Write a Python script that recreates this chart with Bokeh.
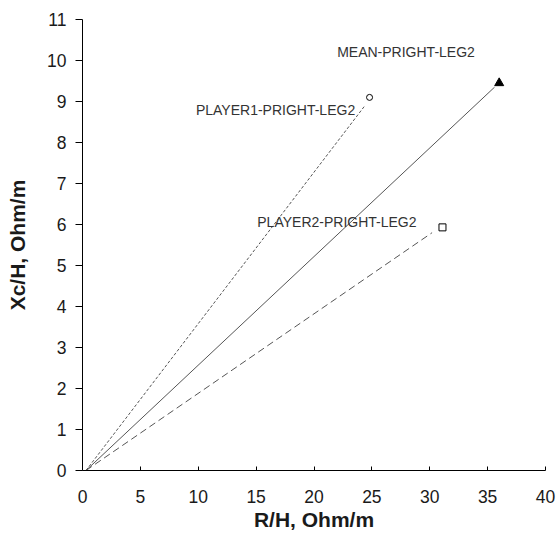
from bokeh.plotting import figure
from bokeh.models import Range1d, FixedTicker
from bokeh.core.properties import value
from bokeh.embed import file_html
from bokeh.resources import INLINE

# Data
series = ["MEAN-PRIGHT-LEG2", "PLAYER1-PRIGHT-LEG2", "PLAYER2-PRIGHT-LEG2"]
point_r = [36.0, 24.8, 31.1]
point_xc = [9.45, 9.1, 5.93]
line_end_r = [35.6, 24.4, 30.2]
line_end_xc = [9.35, 8.9, 5.8]
line_start_r = [0.3, 0.3, 0.3]
line_start_xc = [0.0, 0.0, 0.0]
label_r = [22.0, 9.8, 15.1]
label_xc = [10.2, 8.8, 6.05]
x_ticks = [0, 5, 10, 15, 20, 25, 30, 35, 40]
y_ticks = list(range(0, 12))

FONT = "Liberation Sans"

p = figure(width=558, height=536, output_backend="svg", toolbar_location=None,
           x_range=Range1d(0, 40), y_range=Range1d(0, 11),
           min_border_left=82, min_border_right=13, min_border_top=19, min_border_bottom=66)
p.outline_line_color = None
p.grid.visible = False
p.background_fill_color = "white"
p.border_fill_color = "white"

dashes = ["solid", "3 2", "7 4"]
for i in range(3):
    p.line([line_start_r[i], line_end_r[i]], [line_start_xc[i], line_end_xc[i]],
           line_color="#555555", line_width=1, line_dash=dashes[i])

p.scatter([point_r[0]], [point_xc[0]], marker="triangle", size=9,
          fill_color="black", line_color="black")
p.scatter([point_r[1]], [point_xc[1]], marker="circle", size=6,
          fill_color="white", line_color="black", line_width=1)
p.scatter([point_r[2]], [point_xc[2]], marker="square", size=7,
          fill_color="white", line_color="black", line_width=1)

p.text(label_r, label_xc, text=series, text_font=value(FONT), text_font_size="14px",
       text_color="#333333", text_baseline="middle", text_align="left")

for ax in (p.xaxis, p.yaxis):
    ax.axis_line_color = "black"
    ax.major_tick_line_color = "black"
    ax.minor_tick_line_color = None
    ax.major_label_text_font = FONT
    ax.major_label_text_font_size = "17.5px"
    ax.major_label_text_color = "#1a1a1a"
    ax.axis_label_text_font = FONT
    ax.axis_label_text_font_size = "21px"
    ax.axis_label_text_font_style = "bold"
    ax.axis_label_text_color = "#1a1a1a"

p.xaxis.ticker = FixedTicker(ticks=x_ticks)
p.yaxis.ticker = FixedTicker(ticks=y_ticks)
p.xaxis.axis_label = "R/H, Ohm/m"
p.yaxis.axis_label = "Xc/H, Ohm/m"
p.xaxis.major_tick_in = 4
p.xaxis.major_tick_out = 0
p.yaxis.major_tick_in = 0
p.yaxis.major_tick_out = 7
p.xaxis.major_label_standoff = 19
p.yaxis.major_label_standoff = 9
p.xaxis.axis_label_standoff = 2
p.yaxis.axis_label_standoff = 15

open("out.html", "w").write(file_html(p, INLINE))
